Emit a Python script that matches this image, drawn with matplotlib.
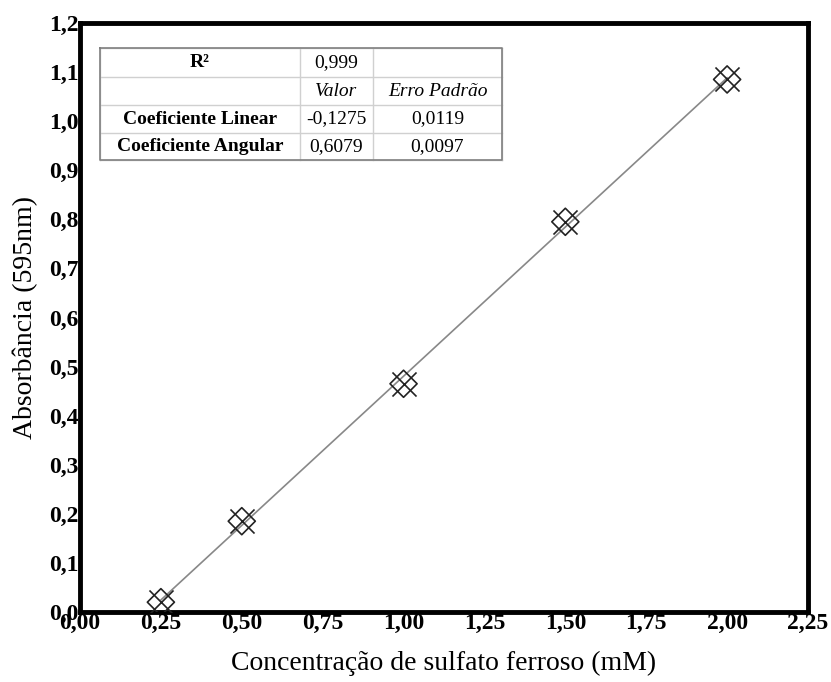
import matplotlib
matplotlib.use("Agg")
import matplotlib.pyplot as plt
import numpy as np

conc = [0.25, 0.5, 1.0, 1.5, 2.0]
absorb = [0.02, 0.185, 0.465, 0.795, 1.085]
slope = 0.6079
intercept = -0.1275
xticks = [0.0, 0.25, 0.5, 0.75, 1.0, 1.25, 1.5, 1.75, 2.0, 2.25]
yticks = [0.0, 0.1, 0.2, 0.3, 0.4, 0.5, 0.6, 0.7, 0.8, 0.9, 1.0, 1.1, 1.2]
table_rows = [["R²", "0,999", ""],
              ["", "Valor", "Erro Padrão"],
              ["Coeficiente Linear", "-0,1275", "0,0119"],
              ["Coeficiente Angular", "0,6079", "0,0097"]]

plt.rcParams['font.family'] = ['Liberation Serif', 'DejaVu Serif']
fig = plt.figure(figsize=(8.31, 6.82), dpi=100)
ax = fig.add_axes([80/831, 70/682, 728/831, 589/682])

xf = np.array([conc[0], conc[-1]])
ax.plot(xf, slope*xf + intercept, color='#888888', lw=1.2, zorder=2)
ax.scatter(conc, absorb, marker='D', s=190, facecolors='none', edgecolors='#222222', linewidths=1.2, zorder=3)
ax.scatter(conc, absorb, marker='x', s=300, color='#222222', linewidths=1.2, zorder=3)

ax.set_xlim(0, 2.25)
ax.set_ylim(0, 1.2)
ax.set_xticks(xticks)
ax.set_yticks(yticks)
ax.set_xticklabels([f"{v:.2f}".replace('.', ',') for v in xticks], fontweight='bold', fontsize=17)
ax.set_yticklabels([f"{v:.1f}".replace('.', ',') for v in yticks], fontweight='bold', fontsize=17)
ax.tick_params(length=0, pad=1)
for s in ax.spines.values():
    s.set_linewidth(3.5)
ax.set_xlabel("Concentração de sulfato ferroso (mM)", fontsize=20, labelpad=12)
ax.set_ylabel("Absorbância (595nm)", fontsize=20, labelpad=8)

# table
x0, x1 = 100, 502
cols = [100, 300, 373, 502]
rows = [48, 77, 105, 133, 160]
def fx(px): return (px - 80) / 728
def fy(py): return (612 - py) / 589
for r in rows:
    ax.plot([fx(x0), fx(x1)], [fy(r), fy(r)], transform=ax.transAxes, color='#d0d0d0', lw=1, zorder=4)
for c in cols:
    ax.plot([fx(c), fx(c)], [fy(rows[0]), fy(rows[-1])], transform=ax.transAxes, color='#d0d0d0', lw=1, zorder=4)
ax.plot([fx(x0), fx(x1), fx(x1), fx(x0), fx(x0)],
        [fy(rows[0]), fy(rows[0]), fy(rows[-1]), fy(rows[-1]), fy(rows[0])],
        transform=ax.transAxes, color='#808080', lw=1.2, zorder=5)
for i, row in enumerate(table_rows):
    yc = fy((rows[i] + rows[i+1]) / 2)
    for j, txt in enumerate(row):
        if not txt:
            continue
        xc = fx((cols[j] + cols[j+1]) / 2)
        kw = {}
        if j == 0:
            kw['fontweight'] = 'bold'
        if i == 1:
            kw['fontstyle'] = 'italic'
        ax.text(xc, yc, txt, transform=ax.transAxes, ha='center', va='center', fontsize=14, zorder=6, **kw)

fig.savefig("out.png", dpi=100)
